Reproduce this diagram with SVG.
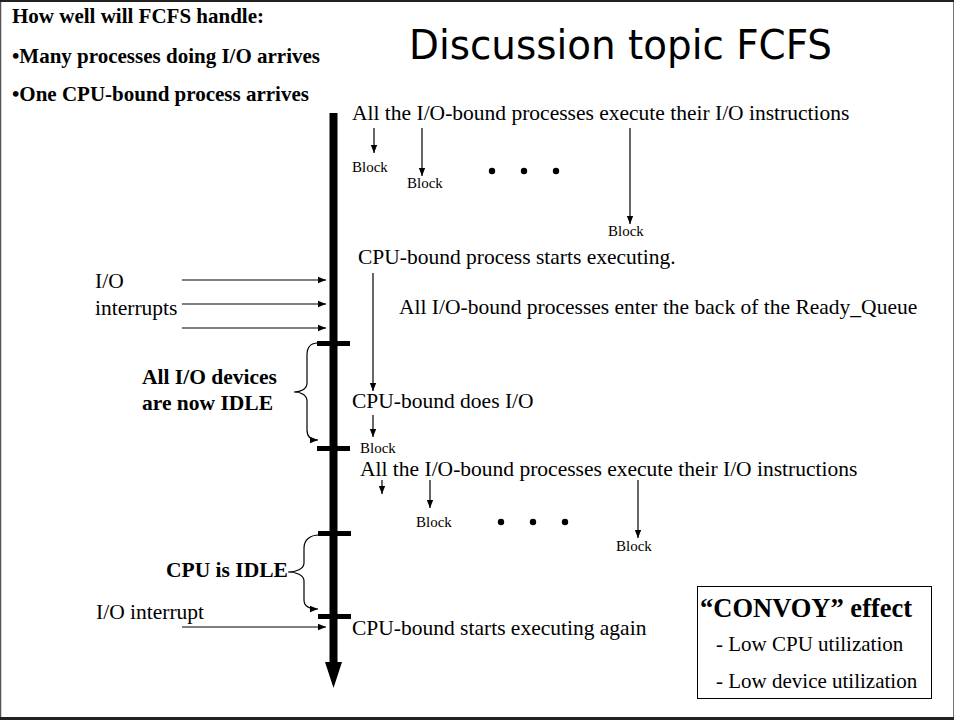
<svg xmlns="http://www.w3.org/2000/svg" width="954" height="720" viewBox="0 0 954 720">
  <defs>
    <marker id="ah" viewBox="0 0 10 10" refX="10" refY="5" markerWidth="8" markerHeight="8" markerUnits="userSpaceOnUse" orient="auto">
      <path d="M0,1 L10,5 L0,9 Z" fill="#000"/>
    </marker>
    <style>
      .t { font-family: "Liberation Serif", "Times New Roman", serif; fill: #000; }
      .b { font-weight: bold; }
      .body { font-size: 21.5px; }
      .blk { font-size: 15px; }
      .ttl { font-family: "DejaVu Sans", "Noto Sans", sans-serif; font-size: 40px; fill: #000; }
      .ln { stroke: #000; stroke-width: 1.2; fill: none; }
      .ar { marker-end: url(#ah); }
      .tick { fill: #000; }
    </style>
  </defs>

  <!-- page frame -->
  <rect x="0" y="0" width="954" height="720" fill="#fff"/>
  <line x1="0.5" y1="0" x2="0.5" y2="720" stroke="#555" stroke-width="1.5"/>
  <line x1="953.5" y1="0" x2="953.5" y2="720" stroke="#777" stroke-width="1"/>
  <line x1="0" y1="1" x2="954" y2="1" stroke="#222" stroke-width="2"/>
  <line x1="0" y1="718.5" x2="954" y2="718.5" stroke="#222" stroke-width="3"/>

  <!-- heading and question -->
  <g id="question">
    <text class="t b" x="12" y="23" font-size="21">How well will FCFS handle:</text>
    <text class="t b" x="12" y="63" font-size="21">•Many processes doing I/O arrives</text>
    <text class="t b" x="12" y="101" font-size="21">•One CPU-bound process arrives</text>
  </g>
  <g id="title">
    <text class="ttl" x="409" y="59" textLength="423" lengthAdjust="spacingAndGlyphs">Discussion topic FCFS</text>
  </g>

  <!-- time axis -->
  <g id="timeline">
    <rect x="329.5" y="113" width="8" height="552" fill="#000"/>
    <path d="M325,662 L342,662 L333.5,688 Z" fill="#000"/>
    <rect class="tick" x="317" y="341" width="33" height="5"/>
    <rect class="tick" x="317" y="446" width="33" height="5"/>
    <rect class="tick" x="318" y="531" width="33" height="5"/>
    <rect class="tick" x="318" y="614" width="33" height="5"/>
  </g>

  <!-- first burst of I/O-bound processes -->
  <g id="io-burst-1">
    <text class="t body" x="352" y="120">All the I/O-bound processes execute their I/O instructions</text>
    <text class="t blk" x="352" y="172">Block</text>
    <text class="t blk" x="407" y="188">Block</text>
    <text class="t blk" x="608" y="236">Block</text>
    <circle cx="492" cy="171" r="3.2"/>
    <circle cx="524" cy="171" r="3.2"/>
    <circle cx="556" cy="171" r="3.2"/>
  </g>

  <g id="cpu-start">
    <text class="t body" x="358" y="264">CPU-bound process starts executing.</text>
  </g>
  <g id="ready-queue">
    <text class="t body" x="399" y="314">All I/O-bound processes enter the back of the Ready_Queue</text>
  </g>
  <g id="io-interrupts">
    <text class="t body" x="95" y="288">I/O</text>
    <text class="t body" x="95" y="315">interrupts</text>
  </g>
  <g id="devices-idle">
    <text class="t b body" x="142" y="384">All I/O devices</text>
    <text class="t b body" x="142" y="410">are now IDLE</text>
  </g>
  <g id="cpu-io">
    <text class="t body" x="352" y="408">CPU-bound does I/O</text>
    <text class="t blk" x="360" y="453">Block</text>
  </g>

  <!-- second burst of I/O-bound processes -->
  <g id="io-burst-2">
    <text class="t body" x="360" y="476">All the I/O-bound processes execute their I/O instructions</text>
    <text class="t blk" x="416" y="527">Block</text>
    <text class="t blk" x="616" y="551">Block</text>
    <circle cx="501" cy="522" r="3.2"/>
    <circle cx="533" cy="522" r="3.2"/>
    <circle cx="565" cy="522" r="3.2"/>
  </g>

  <g id="cpu-idle">
    <text class="t b body" x="166" y="577">CPU is IDLE</text>
  </g>
  <g id="io-interrupt">
    <text class="t body" x="96" y="619">I/O interrupt</text>
  </g>
  <g id="cpu-again">
    <text class="t body" x="352" y="635">CPU-bound starts executing again</text>
  </g>

  <g id="convoy">
    <rect x="697.5" y="586.5" width="234" height="112" fill="none" stroke="#000" stroke-width="1"/>
    <text class="t b" x="700" y="617" font-size="26.5">“CONVOY” effect</text>
    <text class="t" x="716" y="651" font-size="21">- Low CPU utilization</text>
    <text class="t" x="716" y="688" font-size="21">- Low device utilization</text>
  </g>

  <!-- connectors -->
  <g id="connectors">
    <line class="ln ar" x1="374" y1="128" x2="374" y2="153"/>
    <line class="ln ar" x1="422" y1="128" x2="422" y2="176"/>
    <line class="ln ar" x1="630" y1="128" x2="630" y2="224"/>
    <line class="ln ar" x1="373" y1="273" x2="373" y2="391"/>
    <line class="ln ar" x1="182" y1="280" x2="326" y2="280"/>
    <line class="ln ar" x1="182" y1="304" x2="326" y2="304"/>
    <line class="ln ar" x1="182" y1="328" x2="326" y2="328"/>
    <line class="ln ar" x1="373" y1="415" x2="373" y2="437"/>
    <line class="ln ar" x1="382" y1="480" x2="382" y2="494"/>
    <line class="ln ar" x1="430" y1="480" x2="430" y2="508"/>
    <line class="ln ar" x1="638" y1="480" x2="638" y2="538"/>
    <line class="ln ar" x1="182" y1="627" x2="326" y2="627"/>
    <path class="ln ar" d="M318,343 C311,343 307,347 307,355 L307,383 C307,389 301,392 294,392 C301,392 307,395 307,401 L307,430 C307,436 310,440 318,440"/>
    <path class="ln ar" d="M319,535 C310,535 304,540 304,548 L304,563 C304,569 296,572 288,572 C296,572 304,575 304,581 L304,600 C304,606 308,609 318,609"/>
  </g>
</svg>
